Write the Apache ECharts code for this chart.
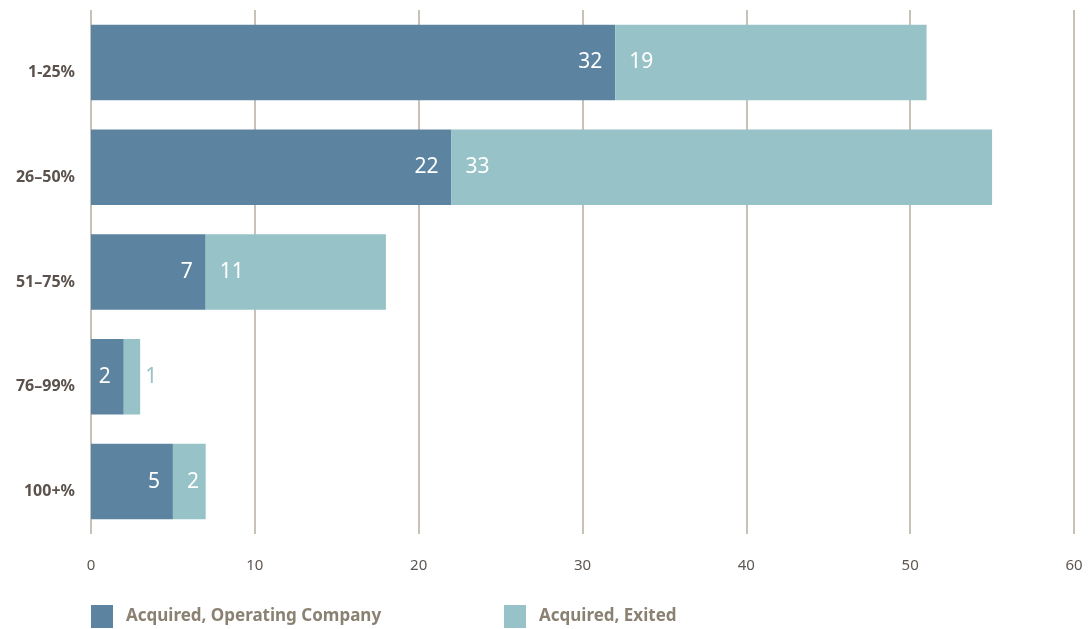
<!DOCTYPE html>
<html>
<head>
<meta charset="utf-8">
<script src="https://cdn.jsdelivr.net/npm/echarts@6/dist/echarts.min.js"></script>
<style>
  html, body { margin: 0; padding: 0; background: #ffffff; }
  #chart { width: 1091px; height: 629px; }
</style>
</head>
<body>
<div id="chart"></div>
<script>
// Share ranges (top to bottom)
const categories = ['1-25%', '26–50%', '51–75%', '76–99%', '100+%'];
// Counts per range
const operating = [32, 22, 7, 2, 5];
const exited = [19, 33, 11, 1, 2];
const seriesNames = ['Acquired, Operating Company', 'Acquired, Exited'];
const xTicks = [0, 10, 20, 30, 40, 50, 60];

const DARK = '#5C84A0';
const LIGHT = '#97C2C8';
const FONT = '"Noto Sans", "Open Sans", sans-serif';

const chart = echarts.init(document.getElementById('chart'));

// Segments too narrow for their label get it placed just outside
const exitedData = exited.map(v => v < 2
  ? { value: v, label: { position: 'right', distance: 5, color: LIGHT } }
  : v);

const legendText = { color: '#8A8172', fontSize: 17, fontWeight: 'bold', fontFamily: FONT, padding: [3, 0, 0, 8] };

chart.setOption({
  animation: false,
  textStyle: { fontFamily: FONT },
  grid: { left: 91, right: 17, top: 10, bottom: 95, containLabel: false },
  legend: [
    {
      data: [seriesNames[0]],
      left: 91, top: 605, padding: 0,
      itemWidth: 22, itemHeight: 23, itemGap: 10,
      icon: 'rect',
      textStyle: legendText
    },
    {
      data: [seriesNames[1]],
      left: 504, top: 605, padding: 0,
      itemWidth: 22, itemHeight: 23, itemGap: 10,
      icon: 'rect',
      textStyle: legendText
    }
  ],
  xAxis: {
    type: 'value',
    min: xTicks[0],
    max: xTicks[xTicks.length - 1],
    interval: 10,
    axisLine: { show: false },
    axisTick: { show: false },
    axisLabel: { color: '#5E5752', fontSize: 15, margin: 24, fontFamily: FONT },
    splitLine: { show: true, lineStyle: { color: '#C7C1B7', width: 2 } }
  },
  yAxis: {
    type: 'category',
    data: categories,
    inverse: true,
    axisLine: { show: false },
    axisTick: { show: false },
    axisLabel: {
      color: '#5B524D', fontSize: 16, fontWeight: 'bold', margin: 16,
      fontFamily: FONT, verticalAlign: 'top', lineHeight: 20
    }
  },
  series: [
    {
      name: seriesNames[0],
      type: 'bar',
      stack: 'total',
      barWidth: '72%',
      itemStyle: { color: DARK },
      label: {
        show: true, position: 'insideRight', distance: 13,
        color: '#ffffff', fontSize: 21, fontFamily: FONT
      },
      data: operating
    },
    {
      name: seriesNames[1],
      type: 'bar',
      stack: 'total',
      barWidth: '72%',
      itemStyle: { color: LIGHT },
      label: {
        show: true, position: 'insideLeft', distance: 14,
        color: '#ffffff', fontSize: 21, fontFamily: FONT
      },
      data: exitedData
    }
  ]
});
</script>
</body>
</html>
